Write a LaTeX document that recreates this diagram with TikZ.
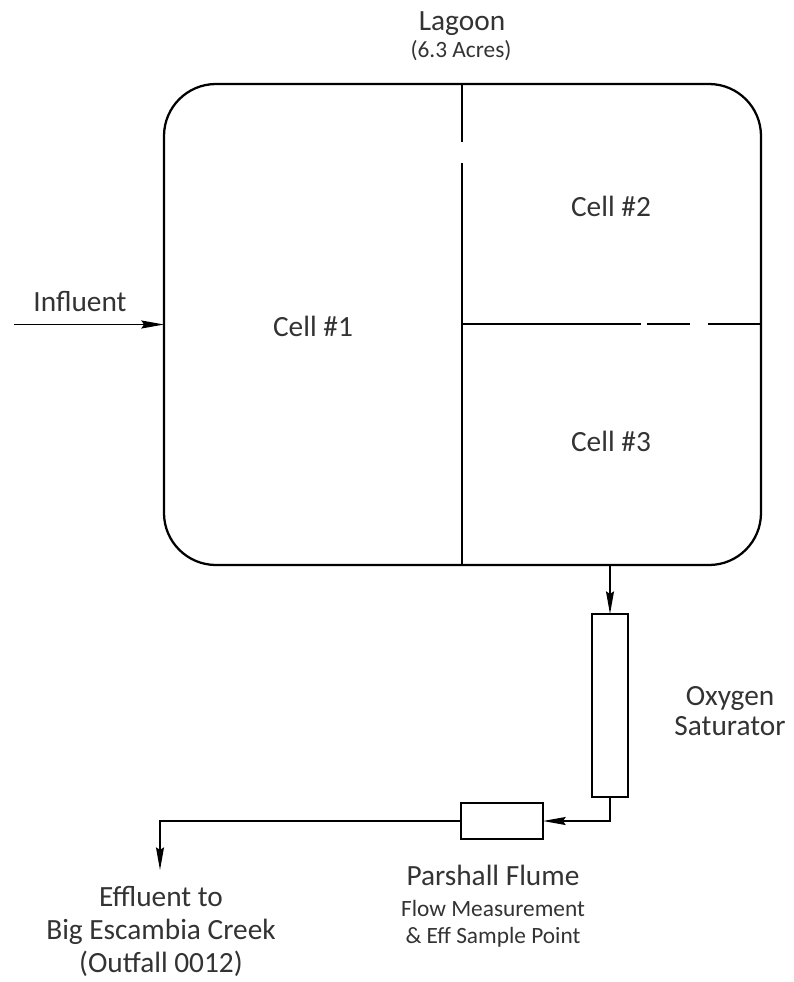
\documentclass[tikz,border=0pt]{standalone}
\usepackage{fontspec}
\setmainfont{Carlito}
\usetikzlibrary{arrows.meta,positioning}

\begin{document}
\begin{tikzpicture}[x=0.75pt, y=-0.75pt, outer sep=0pt, inner sep=0pt]
  \tikzstyle{box}=[
    draw,
    rectangle,
    line width=1.7pt,
    anchor=center
  ]
  \tikzstyle{wall} = [line width=1.7pt, draw=black]
  \tikzstyle{arrow} = [line width=1pt,->,>={Stealth[length=17pt,width=6pt,inset=2pt]}, draw=black]
  \tikzstyle{big} = [font=\fontsize{22}{25}\selectfont, text=black!80, anchor=base, align=center]
  \tikzstyle{small} = [font=\fontsize{17.5}{21}\selectfont, text=black!80, anchor=base, align=center]

  \useasboundingbox (0,0) rectangle (793,982);

  % lagoon and its cells
  \node[box, rounded corners=39pt, minimum width=447.75pt, minimum height=360.75pt] (lagoon) at (462.5,324.5) {};
  \coordinate (divtop) at (462,84);
  \coordinate (divbot) at (462,565);
  \draw[wall] (divtop) -- (462,142);
  \draw[wall] (462,163) -- (divbot);
  \draw[wall] (462,324) -- (641,324);
  \draw[wall] (647,324) -- (690,324);
  \draw[wall] (708,324) -- (lagoon.east |- 0,324);

  \node[big] (lagoonlbl) at (462,30) {Lagoon};
  \node[small] (acres) at (461,57) {(6.3 Acres)};
  \node[big] (cell1) at (313,336) {Cell \#1};
  \node[big] (cell2) at (611,216) {Cell \#2};
  \node[big] (cell3) at (611,451) {Cell \#3};

  % influent
  \coordinate (inlet) at (14,324.5);
  \node[big] (influent) at (80,311) {Influent};
  \draw[arrow] (inlet) -- (lagoon.west);

  % oxygen saturator (base = last line)
  \node[box, minimum width=27pt, minimum height=137.25pt] (saturator) at (610,705.5) {};
  \node[big] (satlbl) at (730,735) {Oxygen\\[-3pt]Saturator};
  \draw[arrow] (saturator.north |- lagoon.south) -- (saturator.north);

  % parshall flume
  \node[box, minimum width=61.5pt, minimum height=27pt] (flume) at (502,821) {};
  \node[big] (flumelbl) at (493,885) {Parshall Flume};
  \node[small] (flowlbl) at (493,943) {Flow Measurement\\[-1pt]\& Eff Sample Point};
  \draw[arrow] (saturator.south) |- (flume.east);

  % effluent
  \coordinate (outlet) at (160,870);
  \node[big] (effluent) at (161,972) {Effluent to\\[-0.5pt]Big Escambia Creek\\[-0.5pt](Outfall 0012)};
  \draw[arrow] (flume.west) -| (outlet);
\end{tikzpicture}
\end{document}
